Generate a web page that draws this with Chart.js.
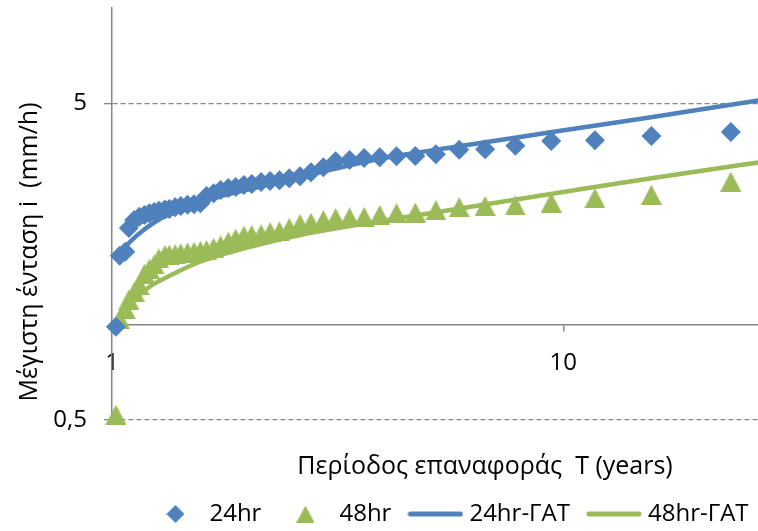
<!DOCTYPE html>
<html>
<head>
<meta charset="utf-8">
<script src="https://cdn.jsdelivr.net/npm/chart.js@4.4.1/dist/chart.umd.min.js"></script>
<style>
  html, body { margin: 0; padding: 0; background: #ffffff; }
  #wrap { width: 758px; height: 531px; }
</style>
</head>
<body>
<div id="wrap"><canvas id="myChart"></canvas></div>
<script>
// Return period T (years) of the observed points, largest first
const returnPeriod = [23.5, 15.67, 11.75, 9.4, 7.83, 6.71, 5.88, 5.22, 4.7, 4.27,
  3.92, 3.62, 3.36, 3.13, 2.94, 2.76, 2.61, 2.47, 2.35, 2.24,
  2.14, 2.04, 1.96, 1.88, 1.81, 1.74, 1.68, 1.62, 1.57, 1.52,
  1.47, 1.42, 1.38, 1.34, 1.31, 1.27, 1.24, 1.21, 1.18, 1.15,
  1.12, 1.09, 1.07, 1.04, 1.02];

// Max intensity (mm/h), 24hr and 48hr observations
const intensity24 = [4.06, 3.94, 3.82, 3.80, 3.67, 3.58, 3.57, 3.45, 3.41, 3.40,
  3.38, 3.36, 3.31, 3.28, 3.14, 3.03, 2.94, 2.90, 2.86, 2.84,
  2.82, 2.78, 2.76, 2.72, 2.70, 2.66, 2.60, 2.55, 2.42, 2.40,
  2.39, 2.37, 2.35, 2.32, 2.31, 2.29, 2.27, 2.25, 2.22, 2.19,
  2.14, 2.02, 1.70, 1.65, 0.985];
const intensity48 = [2.83, 2.57, 2.51, 2.43, 2.38, 2.37, 2.35, 2.30, 2.26, 2.25,
  2.22, 2.19, 2.18, 2.17, 2.14, 2.10, 2.08, 2.02, 1.97, 1.96,
  1.93, 1.92, 1.91, 1.87, 1.83, 1.78, 1.75, 1.72, 1.71, 1.70,
  1.69, 1.68, 1.67, 1.665, 1.66, 1.62, 1.55, 1.50, 1.45, 1.33,
  1.27, 1.20, 1.12, 1.04, 0.52];

// ΓΑΤ fitted curves
const fitT24 = [1.069, 1.106, 1.175, 1.245, 1.345, 1.474, 1.718, 2.023, 2.481, 3.091, 3.889, 5.872, 9.359, 15.65, 27.06];
const fit24 = [1.76, 1.85, 1.99, 2.11, 2.24, 2.37, 2.53, 2.68, 2.88, 3.10, 3.33, 3.66, 4.05, 4.52, 5.11];
const fitT48 = [1.022, 1.069, 1.142, 1.214, 1.359, 1.567, 2.023, 2.611, 3.371, 4.603, 7.668, 11.54, 15.67, 23.46, 27.06];
const fit48 = [1.02, 1.12, 1.23, 1.32, 1.44, 1.58, 1.76, 1.92, 2.05, 2.20, 2.47, 2.71, 2.90, 3.16, 3.25];

const xTicks = [1, 10];
const yTicks = [0.5, 5];
const seriesNames = ["24hr", "48hr", "24hr-ΓΑΤ", "48hr-ΓΑΤ"];
const xTitle = "Περίοδος επαναφοράς  T (years)";
const yTitle = "Μέγιστη ένταση i  (mm/h)";

const blue = "#4F81BD";
const green = "#9BBB59";
const axisGray = "#868686";

const toPoints = (xs, ys) => xs.map((x, i) => ({ x: x, y: ys[i] }));

// small canvases used as marker / legend symbols
function makeIcon(kind, color, size) {
  const c = document.createElement("canvas");
  const ctx = c.getContext("2d");
  ctx.fillStyle = color;
  if (kind === "line") {
    c.width = 56; c.height = 8;
    ctx.strokeStyle = color;
    ctx.lineWidth = 5;
    ctx.lineCap = "round";
    ctx.beginPath();
    ctx.moveTo(3, 4);
    ctx.lineTo(53, 4);
    ctx.stroke();
  } else if (kind === "diamond") {
    c.width = size; c.height = size;
    ctx.fillStyle = color;
    ctx.beginPath();
    ctx.moveTo(size / 2, 0); ctx.lineTo(size, size / 2);
    ctx.lineTo(size / 2, size); ctx.lineTo(0, size / 2);
    ctx.closePath();
    ctx.fill();
  } else {
    c.width = size; c.height = size - 1;
    ctx.fillStyle = color;
    ctx.beginPath();
    ctx.moveTo(size / 2, 0); ctx.lineTo(size, size - 1); ctx.lineTo(0, size - 1);
    ctx.closePath();
    ctx.fill();
  }
  return c;
}
const triangleMarker = makeIcon("triangle", green, 21);
const legendIcons = [
  makeIcon("diamond", blue, 18),
  makeIcon("triangle", green, 18),
  makeIcon("line", blue),
  makeIcon("line", green),
];

// axis titles are drawn where Excel placed them; legend nudged right like the original
const axisTitles = {
  id: "axisTitles",
  afterLayout(chart) {
    chart.legend.left += 16;
    chart.legend.right += 16;
  },
  afterDraw(chart) {
    const ctx = chart.ctx;
    ctx.save();
    ctx.fillStyle = "#000000";
    ctx.font = '25px "Open Sans"';
    ctx.textAlign = "center";
    ctx.textBaseline = "middle";
    ctx.fillText(xTitle, 485, 467);
    ctx.translate(30, 252);
    ctx.rotate(-Math.PI / 2);
    ctx.fillText(yTitle, 0, 0);
    ctx.restore();
  },
};

Chart.defaults.font.family = '"Open Sans", sans-serif';
Chart.defaults.font.size = 24;
Chart.defaults.color = "#000000";

const ctx = document.getElementById("myChart").getContext("2d");
const myChart = new Chart(ctx, {
  type: "scatter",
  data: {
    datasets: [
      {
        label: seriesNames[0],
        data: toPoints(returnPeriod, intensity24),
        pointStyle: "rectRot",
        pointRadius: 10,
        pointHoverRadius: 10,
        backgroundColor: blue,
        borderColor: blue,
        borderWidth: 0,
        clip: false,
      },
      {
        label: seriesNames[1],
        data: toPoints(returnPeriod, intensity48),
        pointStyle: triangleMarker,
        pointRadius: 11,
        pointHoverRadius: 11,
        backgroundColor: green,
        borderColor: green,
        borderWidth: 0,
        clip: false,
      },
      {
        label: seriesNames[2],
        data: toPoints(fitT24, fit24),
        showLine: true,
        pointRadius: 0,
        borderColor: blue,
        backgroundColor: blue,
        borderWidth: 4.5,
        cubicInterpolationMode: "monotone",
      },
      {
        label: seriesNames[3],
        data: toPoints(fitT48, fit48),
        showLine: true,
        pointRadius: 0,
        borderColor: green,
        backgroundColor: green,
        borderWidth: 4.5,
        cubicInterpolationMode: "monotone",
      },
    ],
  },
  options: {
    responsive: true,
    maintainAspectRatio: false,
    animation: false,
    layout: {
      autoPadding: false,
      padding: { top: 8, left: 0, right: 0, bottom: -5 },
    },
    scales: {
      x: {
        type: "logarithmic",
        position: { y: 1 },
        min: 1,
        max: 27,
        afterBuildTicks: (scale) => {
          scale.ticks = xTicks.map((v) => ({ value: v }));
        },
        ticks: {
          padding: 18,
          maxRotation: 0,
          callback: (value) => String(value),
        },
        grid: {
          drawOnChartArea: false,
          drawTicks: true,
          tickLength: 6,
          color: axisGray,
          lineWidth: 1.5,
        },
        border: { color: axisGray, width: 1.5 },
      },
      // empty band under the plot, leaves room for the x title
      xSpace: {
        type: "linear",
        position: "bottom",
        grid: { display: false },
        border: { display: false },
        ticks: { display: false },
        afterFit: (scale) => {
          scale.height = 60;
          scale.paddingLeft = 0;
          scale.paddingRight = 0;
        },
      },
      y: {
        type: "logarithmic",
        min: 0.5,
        max: 10,
        afterBuildTicks: (scale) => {
          scale.ticks = yTicks.map((v) => ({ value: v }));
        },
        afterFit: (scale) => {
          scale.width = 112;
          scale.paddingTop = 0;
          scale.paddingBottom = 0;
        },
        ticks: {
          padding: 17,
          callback: (value) => String(value).replace(".", ","),
        },
        grid: {
          color: axisGray,
          lineWidth: 1.3,
          tickLength: 8,
        },
        border: { color: axisGray, width: 1.5, dash: [5, 3] },
      },
    },
    plugins: {
      legend: {
        position: "bottom",
        fullSize: false,
        labels: {
          usePointStyle: true,
          pointStyleWidth: 44,
          boxHeight: 13,
          padding: 22,
          color: "#000000",
          generateLabels: (chart) => {
            const items = Chart.defaults.plugins.legend.labels.generateLabels(chart);
            items.forEach((item) => {
              item.pointStyle = legendIcons[item.datasetIndex];
            });
            return items;
          },
        },
      },
      tooltip: { enabled: false },
    },
  },
  plugins: [axisTitles],
});
</script>
</body>
</html>
